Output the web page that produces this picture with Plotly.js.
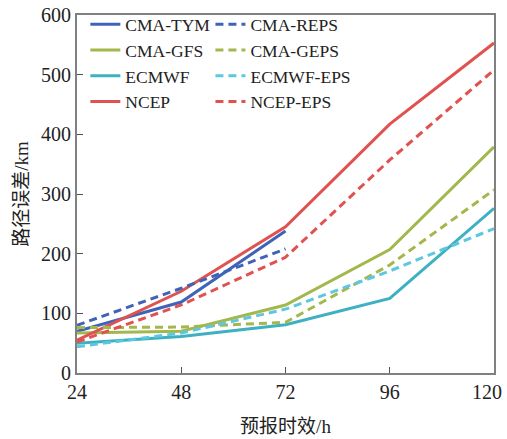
<!DOCTYPE html>
<html><head><meta charset="utf-8">
<script src="https://cdn.plot.ly/plotly-3.0.1.min.js"></script>
<style>html,body{margin:0;padding:0;background:#fff}</style>
</head><body><div id="chart" style="width:507px;height:439px"></div>
<script>
const hours = [24, 48, 72, 96, 120];
const innerHours = [24, 48, 72, 96];
const lastHour = [120];
const tymHours = [24, 48, 72];
const cmaTym   = [70, 119, 238];
const cmaReps  = [80, 142, 208];
const cmaGfs   = [67, 70, 114, 207, 379];
const cmaGeps  = [76, 77, 85, 181, 307];
const ecmwf    = [50, 61, 81, 125, 276];
const ecmwfEps = [44, 67, 107, 171, 242];
const ncep     = [55, 137, 245, 417, 553];
const ncepEps  = [52, 114, 194, 357, 508];
const yTicks   = [0, 100, 200, 300, 400, 500, 600];

const cBlue = '#3f63b9', cOlive = '#a2b84c', cTeal = '#3db1c2', cCyan = '#5ec7e0', cRed = '#e0524f';
const dash = '8px,5px';
function tr(name, x, y, color, dashed, leg) {
  return {x: x, y: y, name: name, type: 'scatter', mode: 'lines',
    line: {color: color, width: 3, dash: dashed ? dash : 'solid'}, legend: leg};
}
const data = [
  tr('CMA-TYM', tymHours, cmaTym, cBlue, false, 'legend'),
  tr('CMA-GFS', hours, cmaGfs, cOlive, false, 'legend'),
  tr('ECMWF', hours, ecmwf, cTeal, false, 'legend'),
  tr('NCEP', hours, ncep, cRed, false, 'legend'),
  tr('CMA-REPS', tymHours, cmaReps, cBlue, true, 'legend2'),
  tr('CMA-GEPS', hours, cmaGeps, cOlive, true, 'legend2'),
  tr('ECMWF-EPS', hours, ecmwfEps, cCyan, true, 'legend2'),
  tr('NCEP-EPS', hours, ncepEps, cRed, true, 'legend2'),
  {x: lastHour, y: [0], xaxis: 'x2', yaxis: 'y', type: 'scatter', mode: 'none',
   showlegend: false, hoverinfo: 'skip'}
];
const tickFnt = {family: 'Liberation Serif, serif', size: 20, color: '#222'};
const titleFnt = {family: 'Liberation Serif, Noto Sans CJK SC, serif', size: 19, color: '#222'};
const legCommon = {font: {family: 'Liberation Serif, serif', size: 17.5, color: '#222'},
  bgcolor: 'rgba(0,0,0,0)', borderwidth: 0, yanchor: 'top', xanchor: 'left',
  y: 1.024, tracegroupgap: 0, itemwidth: 30};
const layout = {
  width: 507, height: 439,
  margin: {l: 77, r: 13, t: 15, b: 66, autoexpand: false},
  paper_bgcolor: '#fff', plot_bgcolor: '#fff',
  font: tickFnt,
  showlegend: true,
  legend: Object.assign({x: 0.02}, legCommon),
  legend2: Object.assign({x: 0.32}, legCommon),
  xaxis: {range: [24, 120], tickvals: hours, ticktext: innerHours.map(String).concat(['']),
    showgrid: false, zeroline: false, showline: true, linecolor: '#808080', linewidth: 2,
    mirror: true, ticks: 'inside', ticklen: 6, tickcolor: '#555', tickwidth: 1,
    ticklabeloverflow: 'allow', automargin: false,
    tickfont: tickFnt, title: {text: '预报时效/h', font: titleFnt, standoff: 18}},
  xaxis2: {range: [24, 120], overlaying: 'x', anchor: 'y', side: 'bottom',
    tickvals: lastHour, ticktext: lastHour.map(String), ticklabelshift: -7,
    showgrid: false, zeroline: false, showline: true, linecolor: 'rgba(0,0,0,0)', linewidth: 2,
    ticks: 'inside', ticklen: 6, tickcolor: 'rgba(0,0,0,0)', tickwidth: 1,
    ticklabeloverflow: 'allow', automargin: false, tickfont: tickFnt},
  yaxis: {range: [0, 600], tickvals: yTicks,
    showgrid: false, zeroline: false, showline: true, linecolor: '#808080', linewidth: 2,
    mirror: true, ticks: 'inside', ticklen: 6, tickcolor: '#555', tickwidth: 1,
    ticklabeloverflow: 'allow', automargin: false,
    tickfont: tickFnt, title: {text: '路径误差/km', font: titleFnt, standoff: 7}}
};
Plotly.newPlot('chart', data, layout, {displayModeBar: false, staticPlot: true});
</script></body></html>
